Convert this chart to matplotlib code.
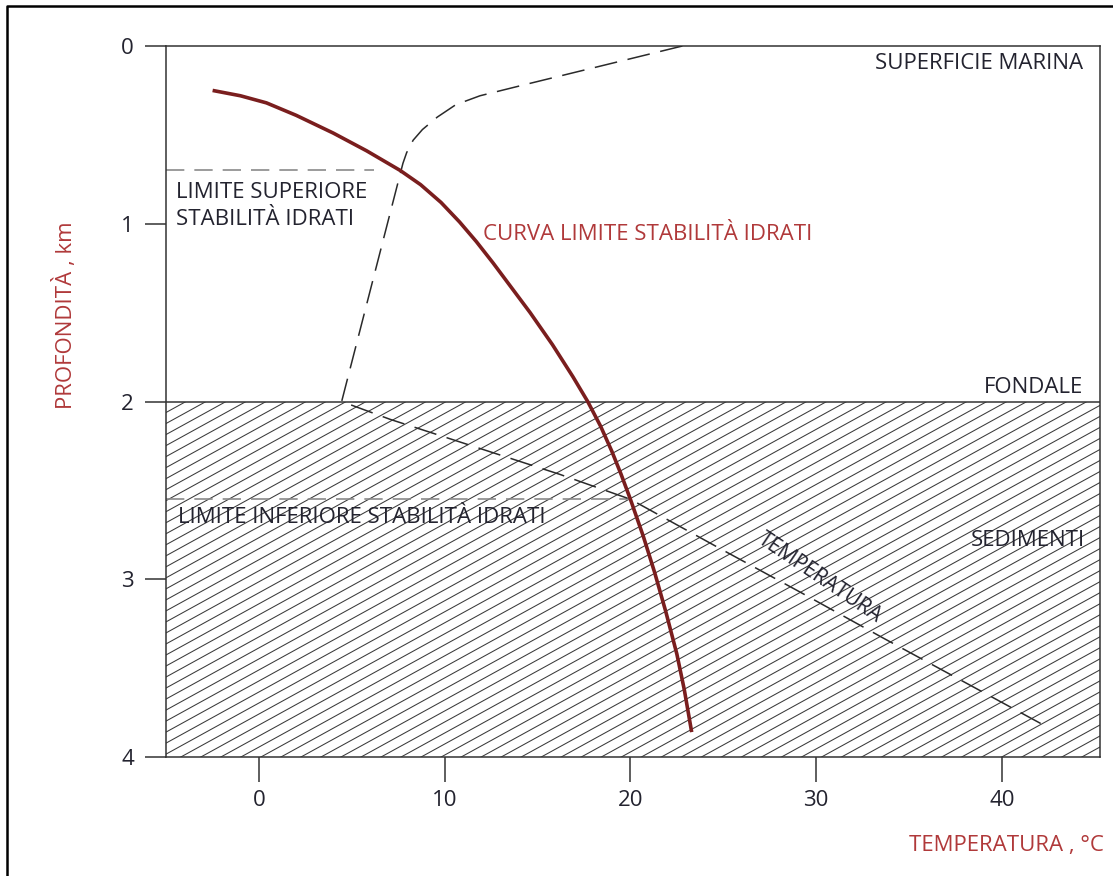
import numpy as np
import matplotlib
matplotlib.use("Agg")
import matplotlib.pyplot as plt
from matplotlib.patches import Rectangle
from matplotlib.lines import Line2D

# ---------- data ----------
# hydrate stability limit curve (temperature degC, depth km)
hyd_temp = [-2.5, -1.0, 0.4, 2.0, 4.0, 5.8, 7.6, 8.7, 9.8, 10.8, 11.7, 12.6, 13.6, 14.6,
            15.8, 16.9, 17.7, 18.4, 19.0, 19.5, 20.0, 20.7, 21.3, 21.9, 22.5, 22.9, 23.3]
hyd_depth = [0.25, 0.28, 0.32, 0.39, 0.49, 0.59, 0.70, 0.78, 0.88, 0.99, 1.10, 1.22, 1.36, 1.50,
             1.68, 1.86, 2.00, 2.14, 2.28, 2.41, 2.55, 2.76, 2.96, 3.18, 3.42, 3.62, 3.86]

# temperature profile (water column + sediments)
prof_temp = [22.8, 14.6, 11.9, 10.6, 9.6, 8.8, 8.3, 7.95, 7.75, 4.45,
             7.05, 16.2, 20.0, 24.7, 29.1, 33.6, 42.6]
prof_depth = [0.0, 0.21, 0.28, 0.33, 0.40, 0.47, 0.53, 0.60, 0.66, 2.00,
              2.10, 2.41, 2.55, 2.82, 3.07, 3.33, 3.84]

seafloor_depth = 2.0
upper_limit_depth = 0.70
upper_limit_xmax = 6.2
lower_limit_depth = 2.55
lower_limit_xmax = 20.0

x_ticks = [0, 10, 20, 30, 40]
y_ticks = [0, 1, 2, 3, 4]
x_range = (-5.01, 45.29)
y_range = (4, 0)

# ---------- style ----------
plt.rcParams["font.family"] = ["Open Sans", "DejaVu Sans"]
TXT = "#23232f"
RED_TXT = "#b0393a"
CURVE = "#7a1e1e"
FS = 16

fig = plt.figure(figsize=(11.13, 8.76), dpi=100)
ax = fig.add_axes([166 / 1113, 1 - 757 / 876, (1100 - 166) / 1113, (757 - 46) / 876])
ax.set_xlim(*x_range)
ax.set_ylim(*y_range)

for side in ["left", "right", "top", "bottom"]:
    ax.spines[side].set_color("#333333")
    ax.spines[side].set_linewidth(1.1)

ax.set_xticks(x_ticks)
ax.set_yticks(y_ticks)
ax.tick_params(axis="x", direction="out", length=18, width=1.1, color="#333333",
               pad=6, labelsize=16, labelcolor=TXT)
ax.tick_params(axis="y", direction="out", length=15, width=1.1, color="#333333",
               pad=8, labelsize=16, labelcolor=TXT)

# sediment hatch (thin slanted lines clipped to the sediment box)
sed_box = Rectangle((x_range[0], seafloor_depth), x_range[1] - x_range[0],
                    y_range[0] - seafloor_depth, facecolor="none", edgecolor="none")
ax.add_patch(sed_box)
slope = 0.0575
spacing = 0.062
xs = np.array(x_range)
for c in np.arange(seafloor_depth, y_range[0] + slope * 51 + spacing, spacing):
    ln, = ax.plot(xs, c - slope * (xs - x_range[0]), color="#3a3a3a", lw=0.75, zorder=1)
    ln.set_clip_path(sed_box)

ax.axhline(seafloor_depth, color="#333333", lw=1.1, zorder=2)

# stability limits
ax.plot([x_range[0], upper_limit_xmax], [upper_limit_depth] * 2, color="#8a8a8a",
        lw=1.2, dashes=(11, 6), zorder=2)
ax.plot([x_range[0], lower_limit_xmax], [lower_limit_depth] * 2, color="#8a8a8a",
        lw=1.2, dashes=(11, 6), zorder=2)

# temperature profile
ax.plot(prof_temp, prof_depth, color="#2a2a2a", lw=1.1, dashes=(15, 7), zorder=3)

# hydrate stability curve
ax.plot(hyd_temp, hyd_depth, color=CURVE, lw=2.6, solid_joinstyle="round",
        solid_capstyle="butt", zorder=4)

# labels inside the plot
ax.text(44.4, 0.096, "SUPERFICIE MARINA", ha="right", va="center", fontsize=FS, color=TXT)
ax.text(44.4, 1.92, "FONDALE", ha="right", va="center", fontsize=FS, color=TXT)
ax.text(44.5, 2.78, "SEDIMENTI", ha="right", va="center", fontsize=FS, color=TXT)
ax.text(-4.47, 0.90, "LIMITE SUPERIORE\nSTABILITÀ IDRATI", ha="left", va="center",
        fontsize=FS, color=TXT, linespacing=1.35)
ax.text(-4.36, 2.655, "LIMITE INFERIORE STABILITÀ IDRATI", ha="left", va="center",
        fontsize=FS, color=TXT)
ax.text(12.06, 1.063, "CURVA LIMITE STABILITÀ IDRATI", ha="left", va="center",
        fontsize=FS, color=RED_TXT)
ax.text(30.2, 2.99, "TEMPERATURA", ha="center", va="center", rotation=-34,
        rotation_mode="anchor", fontsize=15, color=TXT)

# axis titles
fig.text(65 / 1113, 1 - 315 / 876, "PROFONDITÀ , km", rotation=90, ha="center",
         va="center", fontsize=FS, color=RED_TXT)
fig.text(1104 / 1113, 1 - 845 / 876, "TEMPERATURA , °C", ha="right", va="center",
         fontsize=FS, color=RED_TXT)

# outer frame (top and left edges only are visible)
fx = 7 / 1113
fy = 1 - 6 / 876
fig.add_artist(Line2D([fx, fx, 1.0], [0.0, fy, fy], transform=fig.transFigure,
                      color="black", lw=1.8))

fig.savefig("out.png", dpi=100)
